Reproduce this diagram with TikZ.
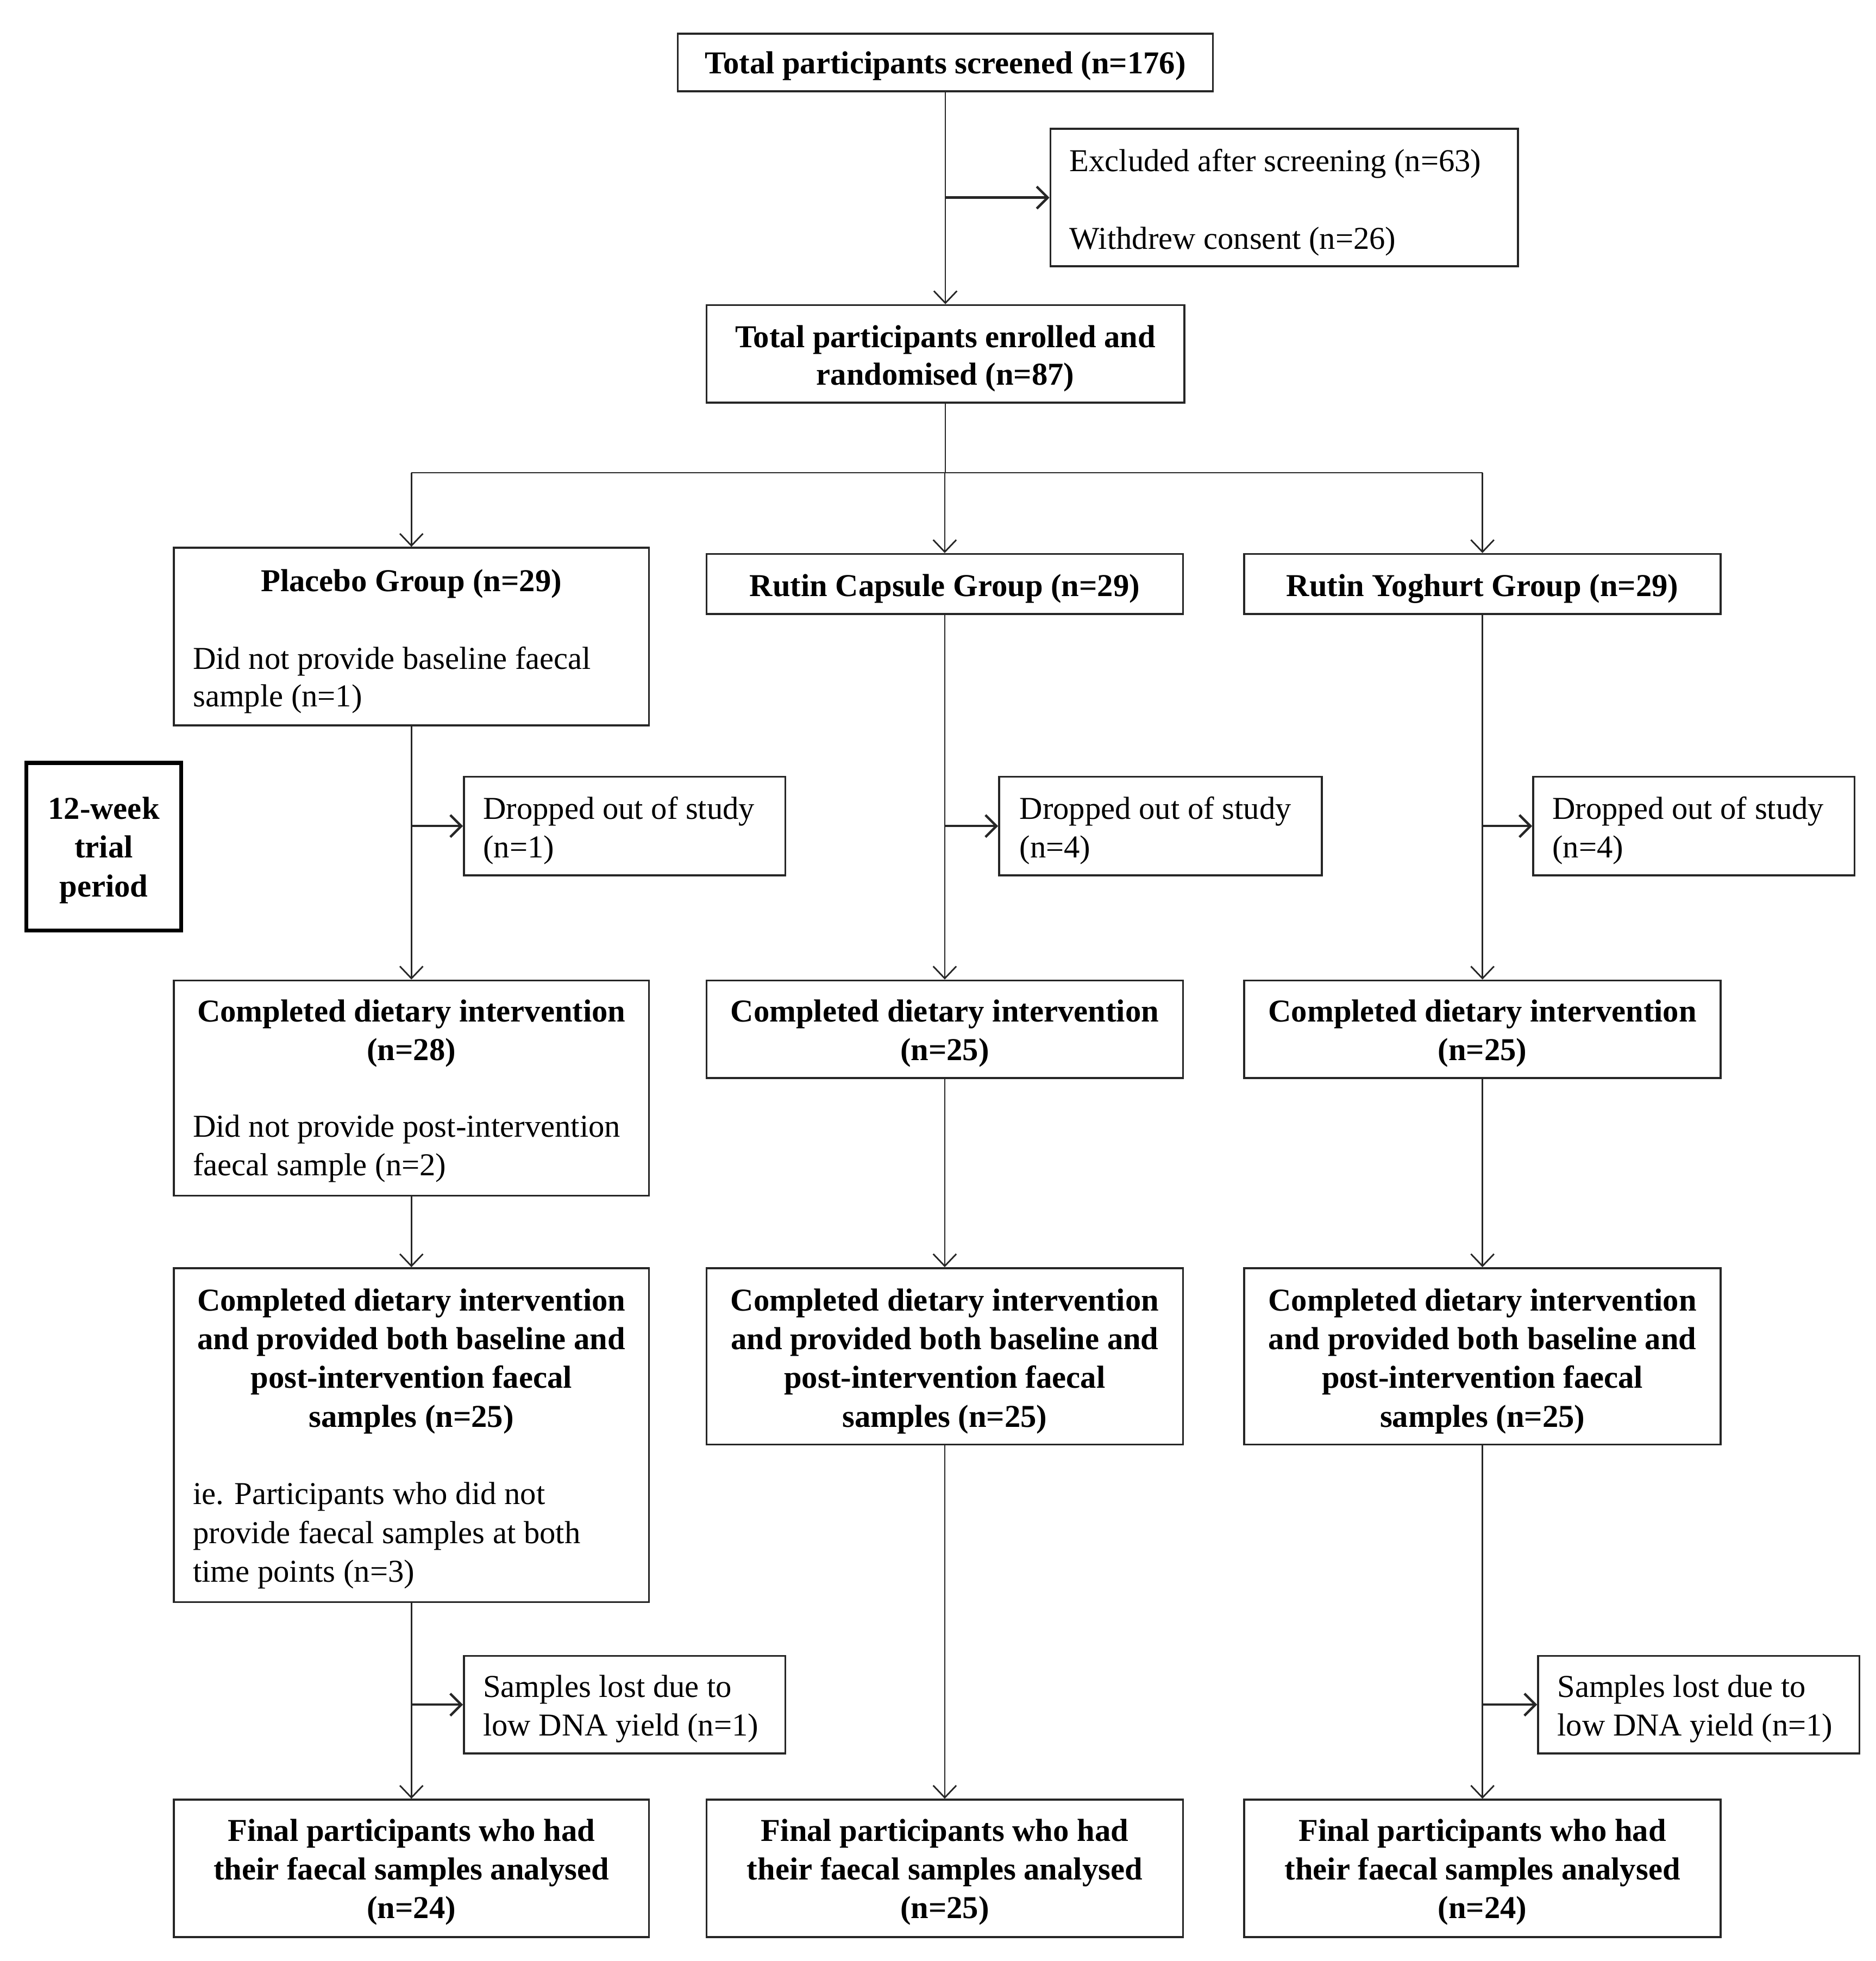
\documentclass[tikz,border=0pt]{standalone}
\usepackage{fontspec}
\setmainfont{Liberation Serif}
\usetikzlibrary{arrows.meta,fit}
\begin{document}
\begin{tikzpicture}[x=0.02cm,y=-0.02cm,
  box/.style={draw=black!85,line width=0.9pt,inner sep=0pt,fill=none},
  wbox/.style={draw=black,line width=1.8pt,inner sep=0pt},
  t/.style={anchor=base,inner sep=0pt,yshift=-1.7pt,font=\fontsize{14.5}{17.6}\selectfont},
  tb/.style={t,font=\fontsize{14.5}{17.6}\selectfont\bfseries},
  tl/.style={t,anchor=base west},
  conn/.style={line width=0.7pt,black!85},
  arr/.style={conn,-{Straight Barb[length=5.5pt,width=10.5pt]}},
  sarr/.style={line width=1.1pt,black!85,-{Straight Barb[length=5pt,width=10pt]}}
]
\useasboundingbox (0,0) rectangle (1500,1568);

% boxes
\node[box,fit={(542,27) (970,73)}] (top) {};
\node[box,fit={(840,103) (1214,213)}] (excl) {};
\node[box,fit={(565,244) (947,322)}] (enr) {};
\node[box,fit={(139,438) (519,580)}] (pl) {};
\node[box,fit={(565,443) (946,491)}] (cap) {};
\node[box,fit={(995,443) (1376,491)}] (yog) {};
\node[wbox,fit={(21,610) (145,744)}] (week) {};
\node[box,fit={(371,621) (628,700)}] (dpl) {};
\node[box,fit={(799,621) (1057,700)}] (dcap) {};
\node[box,fit={(1226,621) (1483,700)}] (dyog) {};
\node[box,fit={(139,784) (519,956)}] (cpl) {};
\node[box,fit={(565,784) (946,862)}] (ccap) {};
\node[box,fit={(995,784) (1376,862)}] (cyog) {};
\node[box,fit={(139,1014) (519,1281)}] (bpl) {};
\node[box,fit={(565,1014) (946,1155)}] (bcap) {};
\node[box,fit={(995,1014) (1376,1155)}] (byog) {};
\node[box,fit={(371,1324) (628,1402)}] (lpl) {};
\node[box,fit={(1230,1324) (1487,1402)}] (lyog) {};
\node[box,fit={(139,1439) (519,1549)}] (fpl) {};
\node[box,fit={(565,1439) (946,1549)}] (fcap) {};
\node[box,fit={(995,1439) (1376,1549)}] (fyog) {};

% texts
\node[tb] (t1) at (756,56) {Total participants screened (n=176)};
\node[tl] (t2) at (855,134) {Excluded after screening (n=63)};
\node[tl] (t3) at (855,196) {Withdrew consent (n=26)};
\node[tb] (t4) at (756,275) {Total participants enrolled and};
\node[tb] (t5) at (756,305) {randomised (n=87)};
\node[tb] (t6) at (329,470) {Placebo Group (n=29)};
\node[tl] (t7) at (154,532) {Did not provide baseline faecal};
\node[tl] (t8) at (154,562) {sample (n=1)};
\node[tb] (t9) at (755.5,474) {Rutin Capsule Group (n=29)};
\node[tb] (t10) at (1185.5,474) {Rutin Yoghurt Group (n=29)};
\node[tb] (w1) at (83,652) {12-week};
\node[tb] (w2) at (83,683) {trial};
\node[tb] (w3) at (83,714) {period};
\node[tl] (d1a) at (386,652) {Dropped out of study};
\node[tl] (d1b) at (386,683) {(n=1)};
\node[tl] (d2a) at (815,652) {Dropped out of study};
\node[tl] (d2b) at (815,683) {(n=4)};
\node[tl] (d3a) at (1241,652) {Dropped out of study};
\node[tl] (d3b) at (1241,683) {(n=4)};
\node[tb] (c1a) at (329,814) {Completed dietary intervention};
\node[tb] (c1b) at (329,845) {(n=28)};
\node[tl] (c1c) at (154,906) {Did not provide post-intervention};
\node[tl] (c1d) at (154,937) {faecal sample (n=2)};
\node[tb] (c2a) at (755.5,814) {Completed dietary intervention};
\node[tb] (c2b) at (755.5,845) {(n=25)};
\node[tb] (c3a) at (1185.5,814) {Completed dietary intervention};
\node[tb] (c3b) at (1185.5,845) {(n=25)};
\foreach \cx/\nm in {329/p,755.5/c,1185.5/y}{
  \node[tb] (b\nm1) at (\cx,1045) {Completed dietary intervention};
  \node[tb] (b\nm2) at (\cx,1076) {and provided both baseline and};
  \node[tb] (b\nm3) at (\cx,1107) {post-intervention faecal};
  \node[tb] (b\nm4) at (\cx,1138) {samples (n=25)};
  \node[tb] (f\nm1) at (\cx,1469) {Final participants who had};
  \node[tb] (f\nm2) at (\cx,1500) {their faecal samples analysed};
}
\node[tl] (bp5) at (154,1200) {ie. Participants who did not};
\node[tl] (bp6) at (154,1231) {provide faecal samples at both};
\node[tl] (bp7) at (154,1262) {time points (n=3)};
\node[tl] (l1a) at (386,1354) {Samples lost due to};
\node[tl] (l1b) at (386,1385) {low DNA yield (n=1)};
\node[tl] (l2a) at (1245,1354) {Samples lost due to};
\node[tl] (l2b) at (1245,1385) {low DNA yield (n=1)};
\node[tb] (fp3) at (329,1531) {(n=24)};
\node[tb] (fc3) at (755.5,1531) {(n=25)};
\node[tb] (fy3) at (1185.5,1531) {(n=24)};

% connectors
\draw[arr] (top.south) -- (enr.north);
\draw[sarr] (top.south |- excl.west) -- (excl.west);
\coordinate (split) at (756,378);
\draw[conn] (enr.south) -- (split);
\draw[conn] (split -| pl.north) -- (split -| yog.north);
\draw[arr] (split -| pl.north) -- (pl.north);
\draw[arr] (split) -- (split -| cap.north) -- (cap.north);
\draw[arr] (split -| yog.north) -- (yog.north);

\draw[arr] (pl.south) -- (cpl.north);
\draw[arr] (cap.south) -- (ccap.north);
\draw[arr] (yog.south) -- (cyog.north);
\draw[sarr] (pl.south |- dpl.west) -- (dpl.west);
\draw[sarr] (cap.south |- dcap.west) -- (dcap.west);
\draw[sarr] (yog.south |- dyog.west) -- (dyog.west);

\draw[arr] (cpl.south) -- (bpl.north);
\draw[arr] (ccap.south) -- (bcap.north);
\draw[arr] (cyog.south) -- (byog.north);

\draw[arr] (bpl.south) -- (fpl.north);
\draw[arr] (bcap.south) -- (fcap.north);
\draw[arr] (byog.south) -- (fyog.north);
\draw[sarr] (bpl.south |- lpl.west) -- (lpl.west);
\draw[sarr] (byog.south |- lyog.west) -- (lyog.west);
\end{tikzpicture}
\end{document}
